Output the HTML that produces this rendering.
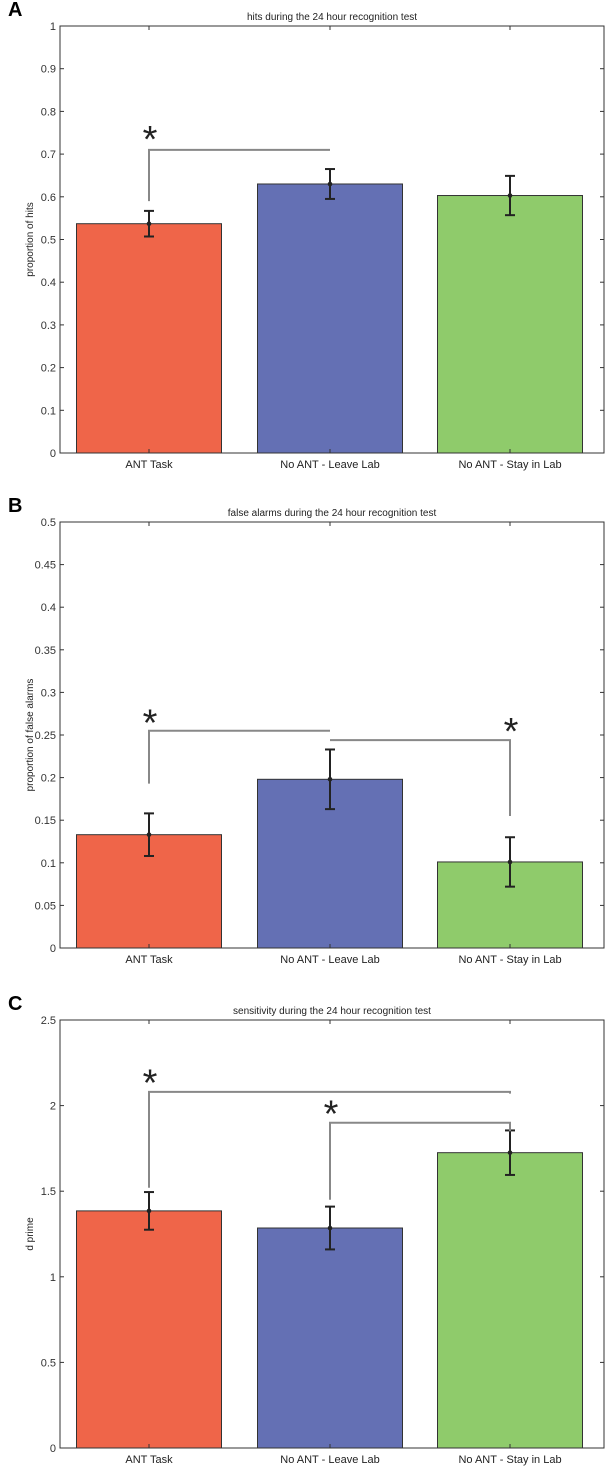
<!DOCTYPE html>
<html><head><meta charset="utf-8"><style>
html,body{margin:0;padding:0;background:#fff;}
svg{display:block;font-family:"Liberation Sans",sans-serif;}
</style></head><body>
<svg id="fig" width="607" height="1467" viewBox="0 0 607 1467" xmlns="http://www.w3.org/2000/svg"></svg>
<script>
const categories = ["ANT Task", "No ANT - Leave Lab", "No ANT - Stay in Lab"];
const hitsValues = [0.537, 0.630, 0.603];
const hitsErr = [0.030, 0.035, 0.046];
const hitsTicks = [0,0.1,0.2,0.3,0.4,0.5,0.6,0.7,0.8,0.9,1];
const hitsTickLabels = ["0","0.1","0.2","0.3","0.4","0.5","0.6","0.7","0.8","0.9","1"];
const faValues = [0.133, 0.198, 0.101];
const faErr = [0.025, 0.035, 0.029];
const faTicks = [0,0.05,0.1,0.15,0.2,0.25,0.3,0.35,0.4,0.45,0.5];
const faTickLabels = ["0","0.05","0.1","0.15","0.2","0.25","0.3","0.35","0.4","0.45","0.5"];
const dpValues = [1.385, 1.285, 1.725];
const dpErr = [0.11, 0.125, 0.13];
const dpTicks = [0,0.5,1,1.5,2,2.5];
const dpTickLabels = ["0","0.5","1","1.5","2","2.5"];
// brackets: [fromIndex, toIndex, fromY, barY, toY, starY, starIndex]
const hitsBrackets = [[0,1,0.59,0.71,0.71,0.75,0]];
const faBrackets = [[0,1,0.193,0.255,0.255,0.272,0],[1,2,0.244,0.244,0.155,0.262,2]];
const dpBrackets = [[0,2,1.52,2.08,2.07,2.17,0],[1,2,1.45,1.90,1.85,1.99,1]];

const NS="http://www.w3.org/2000/svg";
const svg=document.getElementById('fig');
const colors=["#ef6549","#6470b4","#8fcb6b"];
function mk(tag,attrs,parent){const e=document.createElementNS(NS,tag);for(const k in attrs)e.setAttribute(k,attrs[k]);(parent||svg).appendChild(e);return e;}
const centers=[149,330,510], barW=145, left=60, right=604;

function panel(p){
  const g=mk('g',{});
  
  
  const ymax=p.ticks[p.ticks.length-1];
  const y=v=>p.bottom-(v/ymax)*(p.bottom-p.top);
  const letter=mk('text',{x:8,y:p.top-10,'font-size':20,'font-weight':'bold'},g);letter.textContent=p.letter;
  
  
  const t=mk('text',{x:(left+right)/2,y:p.top-6,'font-size':10,'text-anchor':'middle',fill:'#222'},g);t.textContent=p.title;
  
  
  mk('rect',{x:left,y:p.top,width:right-left,height:p.bottom-p.top,fill:'none',stroke:'#333','stroke-width':1},g);
  p.ticks.forEach((v,i)=>{
    mk('line',{x1:left,x2:left+4,y1:y(v),y2:y(v),stroke:'#333'},g);
    mk('line',{x1:right,x2:right-4,y1:y(v),y2:y(v),stroke:'#333'},g);
    const l=mk('text',{x:left-4,y:y(v)+4,'font-size':11,'text-anchor':'end',fill:'#333'},g);l.textContent=p.tickLabels[i];
    
    
  });
  const yl=mk('text',{transform:`translate(33,${(p.top+p.bottom)/2}) rotate(-90)`,'font-size':10,'text-anchor':'middle',fill:'#222'},g);yl.textContent=p.ylabel;
  
  
  p.values.forEach((v,i)=>{
    const c=centers[i];
    const r=mk('rect',{x:c-barW/2,y:y(v),width:barW,height:p.bottom-y(v),fill:colors[i],stroke:'#333','stroke-width':1},g);
    
    
    mk('line',{x1:c,x2:c,y1:p.bottom,y2:p.bottom-4,stroke:'#333'},g);
    mk('line',{x1:c,x2:c,y1:p.top,y2:p.top+4,stroke:'#333'},g);
    const e=p.err[i];
    const eb=mk('g',{},g);
    
    
    mk('line',{x1:c,x2:c,y1:y(v-e),y2:y(v+e),stroke:'#222','stroke-width':2},eb);
    mk('line',{x1:c-5,x2:c+5,y1:y(v-e),y2:y(v-e),stroke:'#222','stroke-width':2},eb);
    mk('line',{x1:c-5,x2:c+5,y1:y(v+e),y2:y(v+e),stroke:'#222','stroke-width':2},eb);
    mk('circle',{cx:c,cy:y(v),r:2.3,fill:'#222'},eb);
    const xl=mk('text',{x:c,y:p.bottom+15,'font-size':11,'text-anchor':'middle',fill:'#222'},g);xl.textContent=categories[i];
    
    
  });
  p.brackets.forEach((b)=>{
    const x1=centers[b[0]], x2=centers[b[1]];
    const bg=mk('g',{},g);
    
    
    mk('polyline',{points:`${x1},${y(b[2])} ${x1},${y(b[3])} ${x2},${y(b[3])} ${x2},${y(b[4])}`,fill:'none',stroke:'#888','stroke-width':2},bg);
    const sx=centers[b[6]];
    const s=mk('text',{x:sx+1,y:y(b[5])+19,'font-size':38,'text-anchor':'middle',fill:'#222'},bg);s.textContent='*';
  });
}
panel({name:'hits-chart',letter:'A',title:'hits during the 24 hour recognition test',ylabel:'proportion of hits',top:26,bottom:453,ticks:hitsTicks,tickLabels:hitsTickLabels,values:hitsValues,err:hitsErr,brackets:hitsBrackets});
panel({name:'false-alarms-chart',letter:'B',title:'false alarms during the 24 hour recognition test',ylabel:'proportion of false alarms',top:522,bottom:948,ticks:faTicks,tickLabels:faTickLabels,values:faValues,err:faErr,brackets:faBrackets});
panel({name:'sensitivity-chart',letter:'C',title:'sensitivity during the 24 hour recognition test',ylabel:'d prime',top:1020,bottom:1448,ticks:dpTicks,tickLabels:dpTickLabels,values:dpValues,err:dpErr,brackets:dpBrackets});
</script>
</body></html>
